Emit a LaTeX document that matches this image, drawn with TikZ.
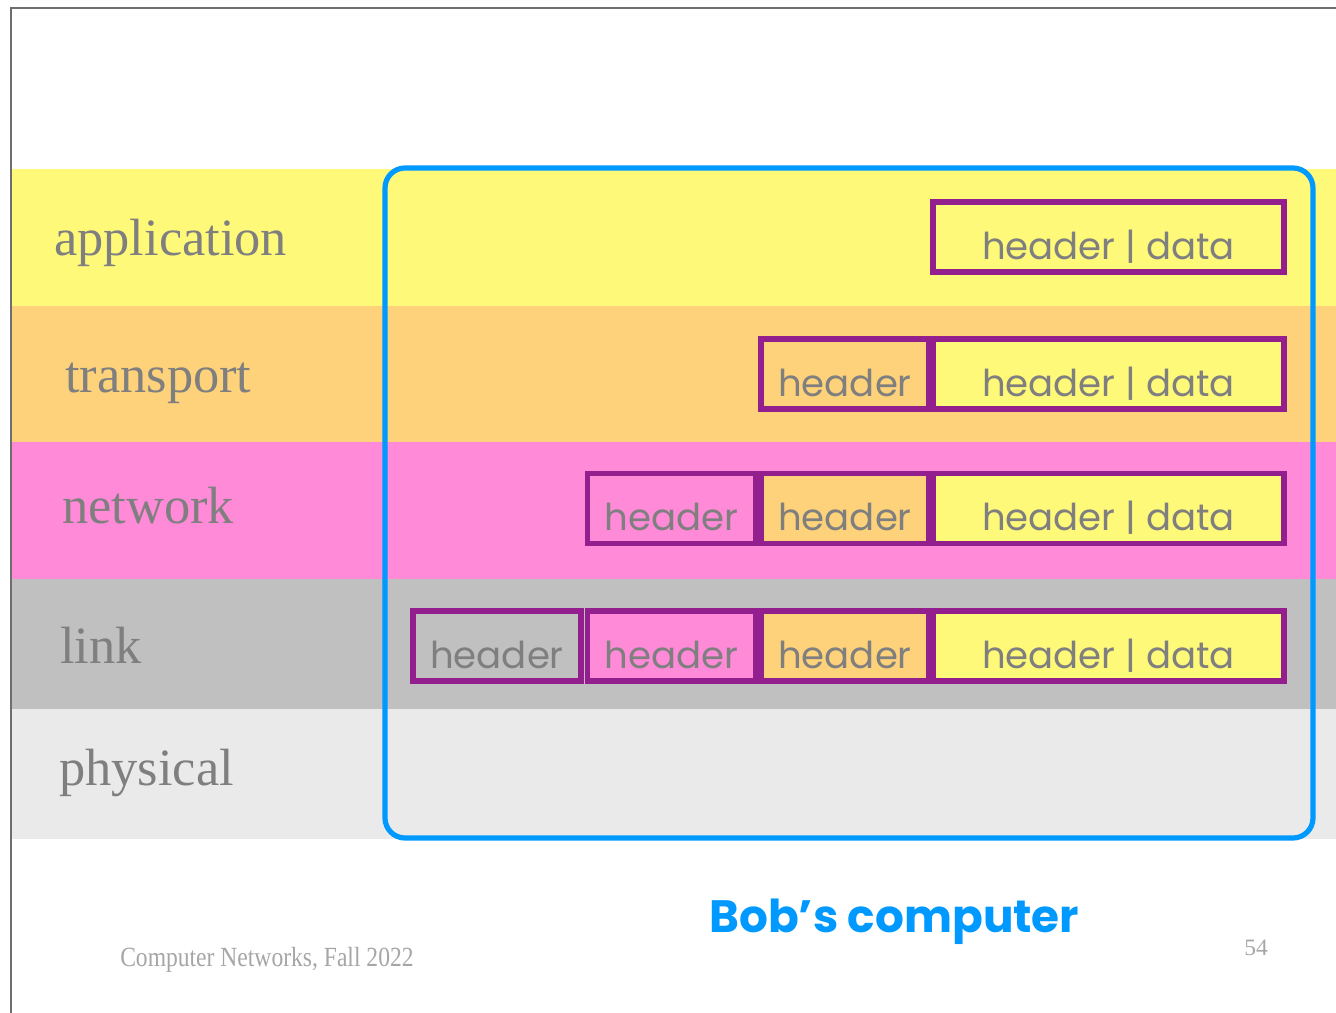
\documentclass[tikz,border=0pt]{standalone}
\usepackage{fontspec}
\setmainfont{Liberation Serif}
\newfontfamily\comicfont{Poppins}
\definecolor{appY}{HTML}{FFF97A}
\definecolor{trnO}{HTML}{FDD27A}
\definecolor{netP}{HTML}{FF8AD8}
\definecolor{lnkG}{HTML}{C0C0C0}
\definecolor{phyG}{HTML}{EAEAEA}
\definecolor{boxP}{HTML}{931E8E}
\definecolor{bobB}{HTML}{0099FF}
\definecolor{txtG}{HTML}{7F7F7F}
\definecolor{footG}{HTML}{A6A6A6}
\definecolor{frameG}{HTML}{6E6E6E}
\tikzset{
  layerlab/.style={anchor=base west, inner sep=0pt, text=txtG, font=\fontsize{39.3}{46}\selectfont},
  pbox/.style={draw=boxP, line width=4.1pt, inner sep=0pt, minimum height=52.5pt,
    text height=33pt, text depth=0pt, text=txtG, font=\comicfont\fontsize{27.8}{32}\selectfont},
  hbox/.style={pbox, minimum width=126pt},
  dbox/.style={pbox, minimum width=263.25pt, fill=appY},
}
\begin{document}
\begin{tikzpicture}[x=0.75pt,y=-0.75pt]
\useasboundingbox (0,0) rectangle (1336,1013);
\fill[white] (0,0) rectangle (1336,1013);
% bands
\fill[appY] (11,169) rectangle (1336,306);
\fill[trnO] (11,306) rectangle (1336,442);
\fill[netP] (11,442) rectangle (1336,579);
\fill[lnkG] (11,579) rectangle (1336,709);
\fill[phyG] (11,709) rectangle (1336,839);
% frame
\draw[frameG, line width=1.2pt] (11,1013) -- (11,8) -- (1336,8);
% layer labels
\node[layerlab] (lapp) at (54,256) {application};
\node[layerlab] (ltrn) at (65,392) {transport};
\node[layerlab] (lnet) at (62,523) {network};
\node[layerlab] (llnk) at (60,663) {link};
\node[layerlab] (lphy) at (59,785) {physical};
% computer outline
\draw[bobB, line width=3.9pt, rounded corners=15pt] (385,168) rectangle (1313,838);
% row 1
\node[dbox] (d1) at (1108.5,237) {header | data};
% row 2
\node[dbox] (d2) at (1108.5,374) {header | data};
\node[hbox, fill=trnO] (t2) at (845,374) {header};
% row 3
\node[dbox] (d3) at (1108.5,508.5) {header | data};
\node[hbox, fill=trnO] (t3) at (845,508.5) {header};
\node[hbox, fill=netP] (n3) at (671.5,508.5) {header};
% row 4
\node[dbox] (d4) at (1108.5,646) {header | data};
\node[hbox, fill=trnO] (t4) at (845,646) {header};
\node[hbox, fill=netP] (n4) at (671.5,646) {header};
\node[hbox, fill=lnkG] (k4) at (497,646) {header};
% captions
\node[anchor=base west, inner sep=0pt, text=bobB, font=\comicfont\fontseries{sb}\selectfont\fontsize{34}{40}\selectfont] (bob) at (709,932) {Bob’s computer};
\node[anchor=base west, inner sep=0pt, text=footG, font=\fontsize{20.8}{24}\selectfont] (foot) at (120,966) {\scalebox{0.85}[1]{Computer Networks, Fall 2022}};
\node[anchor=base west, inner sep=0pt, text=footG, font=\fontsize{17.6}{20}\selectfont] (pnum) at (1244,955) {54};
\end{tikzpicture}
\end{document}
